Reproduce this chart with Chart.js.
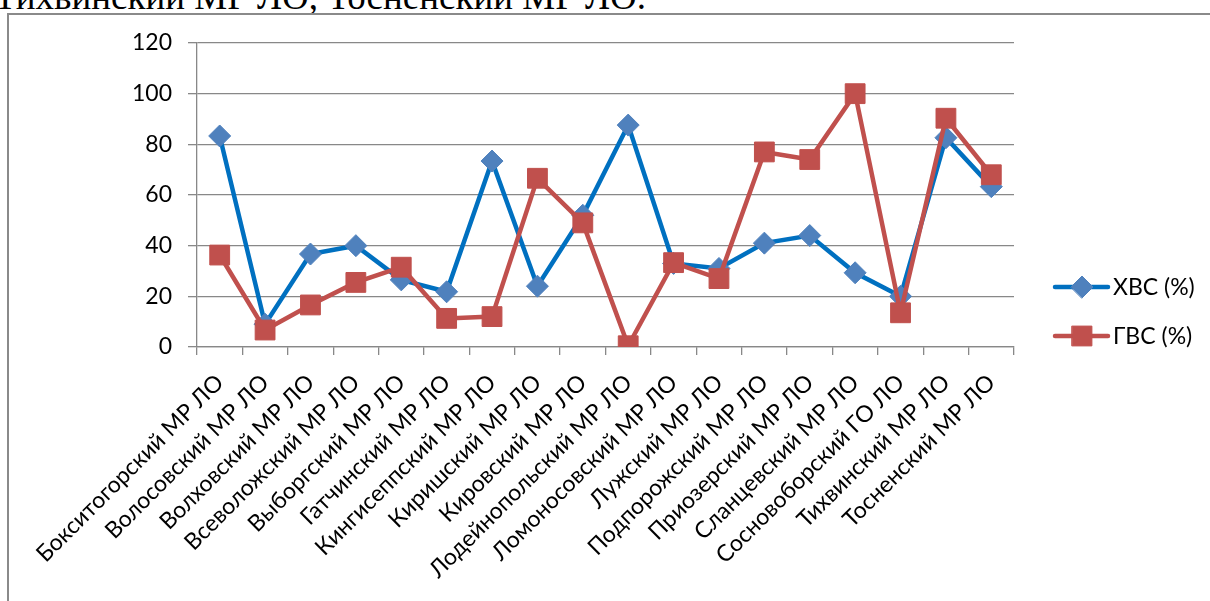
<!DOCTYPE html>
<html>
<head>
<meta charset="utf-8">
<script src="https://cdn.jsdelivr.net/npm/chart.js@4.4.1/dist/chart.umd.min.js"></script>
<style>
  html, body { margin: 0; padding: 0; background: #fff; width: 1210px; height: 601px; overflow: hidden; }
  #toptext { position: absolute; left: -6px; top: -22px; font-family: "Liberation Serif", serif; font-size: 37px; line-height: 37px; color: #000; white-space: nowrap; }
  #frame { position: absolute; left: 7px; top: 13px; width: 1220px; height: 620px; border: 2px solid #8a8a8a; box-sizing: border-box; }
  #wrap { position: absolute; left: 0; top: 0; width: 1210px; height: 601px; }
</style>
</head>
<body>
<div id="toptext">Тихвинский МР ЛО, Тосненский МР ЛО.</div>
<div id="frame"></div>
<div id="wrap"><canvas id="c" width="1210" height="601"></canvas></div>
<script>
const categories = [
  "Бокситогорский МР ЛО", "Волосовский МР ЛО", "Волховский МР ЛО", "Всеволожский МР ЛО",
  "Выборгский МР ЛО", "Гатчинский МР ЛО", "Кингисеппский МР ЛО", "Киришский МР ЛО",
  "Кировский МР ЛО", "Лодейнопольский МР ЛО", "Ломоносовский МР ЛО", "Лужский МР ЛО",
  "Подпорожский МР ЛО", "Приозерский МР ЛО", "Сланцевский МР ЛО", "Сосновоборский ГО ЛО",
  "Тихвинский МР ЛО", "Тосненский МР ЛО"
];
const hvsValues = [83.3, 9, 36.7, 40, 26.5, 21.8, 73.4, 24, 52, 87.6, 33, 31, 41, 44, 29.3, 20, 82.6, 63.3];
const gvsValues = [36.3, 6.7, 16.6, 25.5, 31.5, 11.3, 12, 66.6, 49, 0.5, 33.3, 27, 77, 74, 100, 13.5, 90.3, 68];
const seriesLabels = ["ХВС (%)", "ГВС (%)"];
const yTicks = [0, 20, 40, 60, 80, 100, 120];

const FONT = "Lato, 'Open Sans', sans-serif";
const GRID = "#888888";

const legendPlugin = {
  id: 'excelLegend',
  afterDraw(chart) {
    const ctx = chart.ctx;
    const rows = [
      { ds: chart.data.datasets[0], y: 287 },
      { ds: chart.data.datasets[1], y: 336 }
    ];
    rows.forEach(r => {
      ctx.save();
      ctx.strokeStyle = r.ds.borderColor;
      ctx.lineWidth = r.ds.borderWidth;
      ctx.lineCap = 'round';
      ctx.beginPath();
      ctx.moveTo(1055, r.y);
      ctx.lineTo(1108, r.y);
      ctx.stroke();
      ctx.fillStyle = r.ds.pointBackgroundColor;
      ctx.strokeStyle = r.ds.pointBorderColor;
      ctx.lineWidth = 1;
      Chart.helpers.drawPoint(ctx, { pointStyle: r.ds.pointStyle, radius: r.ds.pointRadius, rotation: 0, borderWidth: 1 }, 1082, r.y);
      ctx.fillStyle = '#000';
      ctx.font = "23px " + FONT;
      ctx.textBaseline = 'middle';
      ctx.textAlign = 'left';
      ctx.fillText(r.ds.label, 1113, r.y + 1);
      ctx.restore();
    });
  }
};

new Chart(document.getElementById('c'), {
  type: 'line',
  data: {
    labels: categories,
    datasets: [
      {
        label: seriesLabels[0],
        data: hvsValues,
        borderColor: '#0070C0',
        borderWidth: 4.5,
        pointStyle: 'rectRot',
        pointRadius: 11,
        pointHoverRadius: 11,
        pointBackgroundColor: '#4F81BD',
        pointBorderColor: '#4F81BD',
        pointBorderWidth: 1,
        tension: 0,
        fill: false,
        order: 1
      },
      {
        label: seriesLabels[1],
        data: gvsValues,
        borderColor: '#C0504D',
        borderWidth: 4.5,
        pointStyle: 'rect',
        pointRadius: 14,
        pointHoverRadius: 14,
        pointBackgroundColor: '#C0504D',
        pointBorderColor: '#C0504D',
        pointBorderWidth: 1,
        tension: 0,
        fill: false,
        order: 0
      }
    ]
  },
  options: {
    responsive: false,
    animation: false,
    devicePixelRatio: 1,
    layout: { padding: { left: 0, top: 43, right: 196, bottom: 0 } },
    plugins: { legend: { display: false }, tooltip: { enabled: false } },
    scales: {
      x: {
        type: 'category',
        offset: true,
        grid: { offset: true, drawOnChartArea: false, drawTicks: true, tickLength: 8, color: GRID, lineWidth: 1.3 },
        border: { display: true, color: GRID, width: 1.3 },
        ticks: {
          autoSkip: false, minRotation: 45, maxRotation: 45,
          font: { family: FONT, size: 23 }, color: '#000',
          padding: 14, labelOffset: 0
        },
        afterFit(scale) { scale.height = 254; }
      },
      y: {
        min: 0, max: 120,
        afterBuildTicks(scale) { scale.ticks = yTicks.map(v => ({ value: v })); },
        grid: { color: GRID, lineWidth: 1.3, drawTicks: true, tickLength: 9 },
        border: { display: true, color: GRID, width: 1.3 },
        ticks: { font: { family: FONT, size: 23 }, color: '#000', padding: 16 },
        afterFit(scale) { scale.width = 197; }
      }
    }
  },
  plugins: [legendPlugin]
});
</script>
</body>
</html>
